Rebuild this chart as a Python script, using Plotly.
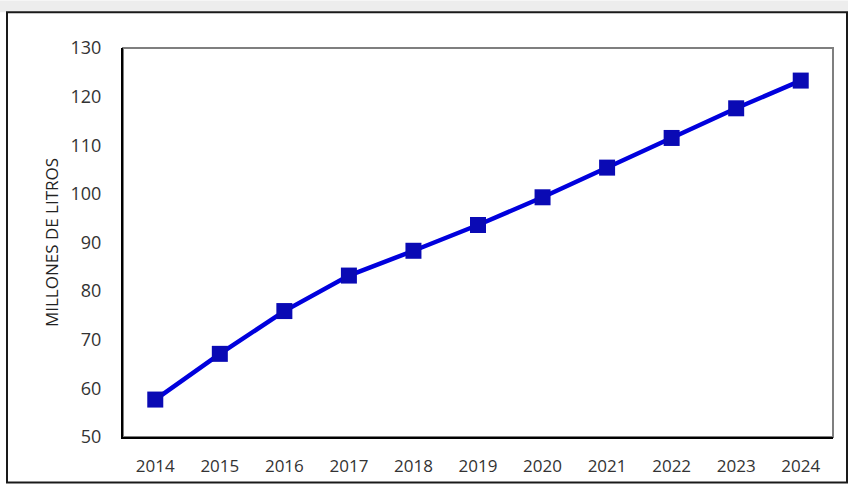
import plotly.graph_objects as go

years = ["2014", "2015", "2016", "2017", "2018", "2019", "2020", "2021", "2022", "2023", "2024"]
values = [57.7, 67.1, 75.9, 83.2, 88.3, 93.6, 99.3, 105.4, 111.5, 117.6, 123.3]
y_ticks = [50, 60, 70, 80, 90, 100, 110, 120, 130]

W, H = 848, 489
L, R, T, B = 123, 15, 48, 48
pw, ph = W - L - R, H - T - B

fig = go.Figure()
fig.add_trace(go.Scatter(
    x=years, y=values, mode="lines+markers",
    line=dict(color="#0000DD", width=4.5),
    marker=dict(symbol="square", size=16, color="#0A0AB4", line=dict(width=0)),
    showlegend=False,
))

font = "Open Sans, Liberation Sans, sans-serif"

fig.update_layout(
    width=W, height=H,
    margin=dict(l=L, r=R, t=T, b=B),
    paper_bgcolor="white", plot_bgcolor="white",
    font=dict(family=font, color="#333333"),
    xaxis=dict(
        type="category", range=[-0.5, 10.5],
        showline=True, linecolor="black", linewidth=2,
        showgrid=False, zeroline=False,
        ticks="outside", ticklen=13, tickcolor="rgba(0,0,0,0)",
        tickfont=dict(size=17, color="#333333"),
    ),
    yaxis=dict(
        range=[50, 130], tickvals=y_ticks,
        showline=True, linecolor="black", linewidth=2,
        showgrid=False, zeroline=False,
        ticks="outside", ticklen=16, tickcolor="rgba(0,0,0,0)",
        tickfont=dict(size=18, color="#333333"),
        title=dict(text="MILLONES DE LITROS", font=dict(size=17, color="#222222"), standoff=8),
    ),
    shapes=[
        # faint gray strip at the top (page background)
        dict(type="rect", xref="paper", yref="paper",
             x0=-L / pw, x1=(W - L) / pw,
             y0=(H - B - 12) / ph, y1=(H - B) / ph,
             fillcolor="#EDEDED", line=dict(width=0), layer="below"),
        # outer frame
        dict(type="rect", xref="paper", yref="paper",
             x0=(7 - L) / pw, x1=(847 - L) / pw,
             y0=(H - B - 487) / ph, y1=(H - B - 12) / ph,
             fillcolor="white", line=dict(color="#1a1a1a", width=2), layer="below"),
        # plot area border (gray top/right)
        dict(type="rect", xref="paper", yref="paper",
             x0=0, x1=1, y0=0, y1=1,
             line=dict(color="#7f7f7f", width=2), layer="below"),
    ],
)

fig.write_html("out.html")
